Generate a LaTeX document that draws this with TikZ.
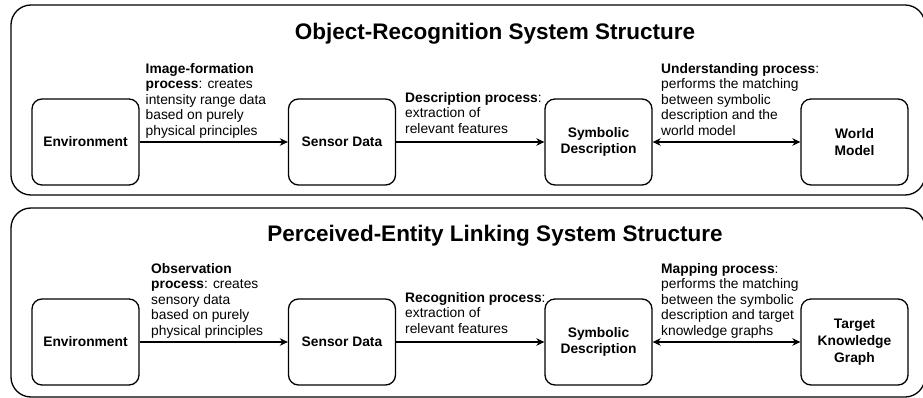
\documentclass[tikz,border=0pt]{standalone}
\usepackage{fontspec}
\setmainfont{Liberation Sans}
\usetikzlibrary{arrows.meta}
\begin{document}
\begin{tikzpicture}[x=1pt,y=-1pt,
  panel/.style={draw, line width=1.3pt, rounded corners=20pt},
  unit/.style={draw, line width=1.3pt, rounded corners=10pt,
    minimum width=107pt, minimum height=86pt, inner sep=0pt,
    align=center, font=\bfseries\fontsize{13.8}{16.8}\selectfont},
  heading/.style={anchor=base, inner sep=0pt,
    font=\bfseries\fontsize{22.5}{27}\selectfont},
  note/.style={anchor=north west, inner sep=0pt, align=left,
    font=\fontsize{13.8}{15.5}\selectfont},
  tip/.tip={Stealth[length=8pt,width=7.5pt,inset=2.5pt]},
  link/.style={line width=1.3pt, -tip},
  twoway/.style={line width=1.3pt, tip-tip}]
\clip (0,0) rectangle (923,398);

% outer frames of the two systems
\draw[panel] (11,5) rectangle (925,195);
\draw[panel] (11,208) rectangle (925,397);

% ---------- object-recognition system ----------
\node[heading] (t1) at (495,40) {Object-Recognition System Structure};

\node[unit] (env1)   at (85.5,142)  {Environment};
\node[unit] (sens1)  at (342,142)   {Sensor Data};
\node[unit] (sym1)   at (598.5,142) {Symbolic\\Description};
\node[unit] (world1) at (854.5,142) {World\\Model};

\draw[link]   (env1) -- (sens1);
\draw[link]   (sens1) -- (sym1);
\draw[twoway] (sym1) -- (world1);

\node[note] (n11) at (145.5,63) {\textbf{Image-formation}\\\textbf{process}: creates\\intensity range data\\based on purely\\physical principles};
\node[note] (n12) at (405,92) {\textbf{Description process}:\\extraction of\\relevant features};
\node[note] (n13) at (661,63) {\textbf{Understanding process}:\\performs the matching\\between symbolic\\description and the\\world model};

% ---------- perceived-entity linking system ----------
\node[heading] (t2) at (495,241) {Perceived-Entity Linking System Structure};

\node[unit] (env2)   at (85.5,342)  {Environment};
\node[unit] (sens2)  at (342,342)   {Sensor Data};
\node[unit] (sym2)   at (598.5,342) {Symbolic\\Description};
\node[unit] (kg2)    at (854.5,342) {Target\\Knowledge\\Graph};

\draw[link]   (env2) -- (sens2);
\draw[link]   (sens2) -- (sym2);
\draw[twoway] (sym2) -- (kg2);

\node[note] (n21) at (151,263) {\textbf{Observation}\\\textbf{process}: creates\\sensory data\\based on purely\\physical principles};
\node[note] (n22) at (405,292) {\textbf{Recognition process}:\\extraction of\\relevant features};
\node[note] (n23) at (661,263) {\textbf{Mapping process}:\\performs the matching\\between the symbolic\\description and target\\knowledge graphs};
\end{tikzpicture}
\end{document}
